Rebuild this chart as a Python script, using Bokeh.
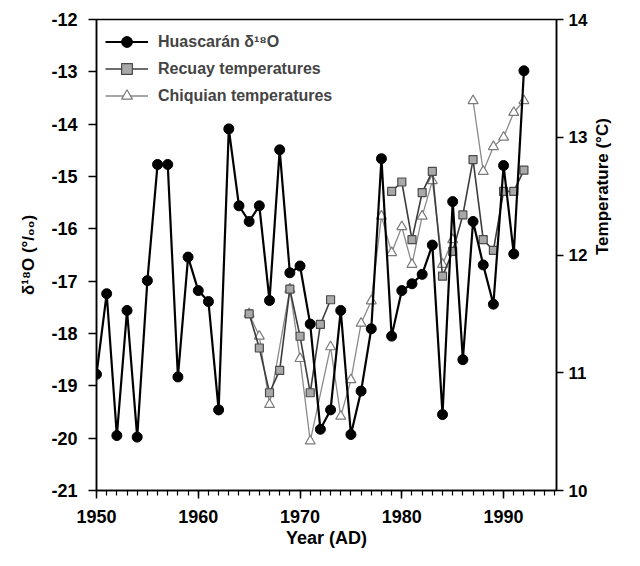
import math
from bokeh.plotting import figure
from bokeh.models import (LinearAxis, Range1d, SingleIntervalTicker, FixedTicker,
                          Legend, LegendItem)
from bokeh.embed import file_html
from bokeh.resources import INLINE

NaN = float("nan")

# Huascaran delta-18O (per mil), yearly 1950-1992
years_h = list(range(1950, 1993))
d18o = [-18.78, -17.24, -19.95, -17.56, -19.98, -16.99, -14.77, -14.77, -18.83, -16.54,
        -17.18, -17.39, -19.46, -14.09, -15.56, -15.86, -15.56, -17.37, -14.49, -16.84,
        -16.71, -17.82, -19.83, -19.46, -17.56, -19.93, -19.10, -17.91, -14.66, -18.05,
        -17.18, -17.05, -16.87, -16.31, -19.55, -15.48, -18.50, -15.86, -16.69, -17.44,
        -14.79, -16.48, -12.98]

# Recuay temperatures (deg C); NaN = missing year (gap in line)
years_r = [1965, 1966, 1967, 1968, 1969, 1970, 1971, 1972, 1973, 1974,
           1979, 1980, 1981, 1982, 1983, 1984, 1985, 1986, 1987, 1988, 1989, 1990, 1991, 1992]
recuay = [11.50, 11.21, 10.83, 11.02, 11.71, 11.31, 10.83, 11.41, 11.62, NaN,
          12.54, 12.62, 12.13, 12.53, 12.71, 11.82, 12.03, 12.34, 12.81, 12.13, 12.04,
          12.54, 12.54, 12.72]

# Chiquian temperatures (deg C); NaN = missing year (gap in line)
years_c = [1965, 1966, 1967, 1969, 1970, 1971, 1973, 1974, 1975, 1976, 1977, 1978,
           1979, 1980, 1981, 1982, 1983, 1984, 1985, 1986, 1987, 1988, 1989, 1990, 1991, 1992]
chiquian = [11.50, 11.31, 10.73, 11.71, 11.12, 10.42, 11.22, 10.63, 10.94, 11.42, 11.61,
            12.33, 12.02, 12.24, 11.92, 12.33, 12.63, 11.92, 12.13, NaN, 13.31, 12.71, 12.92,
            13.00, 13.21, 13.31]

left_ticks = list(range(-21, -11))
right_ticks = [10, 11, 12, 13, 14]

FONT = "Liberation Sans"

p = figure(width=624, height=550, output_backend="svg", toolbar_location=None,
           x_range=Range1d(1950, 1995.2), y_range=Range1d(-21, -12),
           min_border_left=96, min_border_right=54, min_border_top=19, min_border_bottom=58)
p.extra_y_ranges = {"temp": Range1d(10, 14)}
p.xgrid.visible = False
p.ygrid.visible = False
p.outline_line_color = "black"
p.outline_line_width = 1.5
p.background_fill_color = "white"
p.border_fill_color = "white"

xa = p.xaxis[0]
xa.ticker = SingleIntervalTicker(interval=10, num_minor_ticks=10)
xa.axis_label = "Year (AD)"
ya = p.yaxis[0]
ya.ticker = FixedTicker(ticks=left_ticks)
ya.major_label_overrides = {t: str(t) for t in left_ticks}
ya.axis_label = "δ¹⁸O (°/₀₀)"

ra = LinearAxis(y_range_name="temp", ticker=FixedTicker(ticks=right_ticks),
                axis_label="Temperature (°C)")
p.add_layout(ra, "right")

for ax in (xa, ya, ra):
    ax.axis_line_color = "black"
    ax.axis_line_width = 1.5
    ax.major_tick_line_color = "black"
    ax.major_tick_line_width = 1.5
    ax.major_tick_out = 8
    ax.major_tick_in = 0
    ax.minor_tick_line_color = "black"
    ax.minor_tick_line_width = 1.2
    ax.minor_tick_out = 5
    ax.minor_tick_in = 0
    ax.major_label_text_font = FONT
    ax.major_label_text_font_style = "bold"
    ax.major_label_text_font_size = "18px"
    ax.major_label_text_color = "black"
    ax.axis_label_text_font = FONT
    ax.axis_label_text_font_style = "bold"
    ax.axis_label_text_font_size = "17px"
    ax.axis_label_text_color = "black"
    ax.major_label_standoff = 8
    ax.axis_label_standoff = 10
ya.minor_tick_line_color = None
ya.major_label_standoff = 11
ra.minor_tick_line_color = None
ra.major_tick_out = 7
ra.major_label_standoff = 5
ra.major_label_text_font_size = "17px"
ra.axis_label_standoff = 12
try:
    ra.axis_label_orientation = math.pi / 2
except Exception:
    pass
xa.major_label_standoff = 11
xa.axis_label_standoff = 2
xa.axis_label_text_font_size = "18px"

# Series
c_line = p.line(years_c, chiquian, y_range_name="temp", line_color="#8a8a8a", line_width=1.3)
c_pts = p.scatter(years_c, chiquian, y_range_name="temp", marker="triangle", size=10,
                  fill_color="white", line_color="#7a7a7a", line_width=1.2)
r_line = p.line(years_r, recuay, y_range_name="temp", line_color="#3c3c3c", line_width=1.6)
r_pts = p.scatter(years_r, recuay, y_range_name="temp", marker="square", size=8,
                  fill_color="#a9a9a9", line_color="#4a4a4a", line_width=1.2)
h_line = p.line(years_h, d18o, line_color="black", line_width=2.2)
h_pts = p.scatter(years_h, d18o, marker="circle", size=10, fill_color="black",
                  line_color="black")

legend = Legend(items=[
    LegendItem(label="Huascarán δ¹⁸O", renderers=[h_line, h_pts]),
    LegendItem(label="Recuay temperatures", renderers=[r_line, r_pts]),
    LegendItem(label="Chiquian temperatures", renderers=[c_line, c_pts]),
], location="top_left")
legend.margin = 9
legend.padding = 7
legend.spacing = 0
legend.glyph_width = 43
legend.glyph_height = 27
legend.label_standoff = 10
legend.label_text_font = FONT
legend.label_text_font_style = "bold"
legend.label_text_font_size = "16px"
legend.background_fill_alpha = 0
legend.border_line_color = None
p.add_layout(legend)

open("out.html", "w").write(file_html(p, INLINE))
